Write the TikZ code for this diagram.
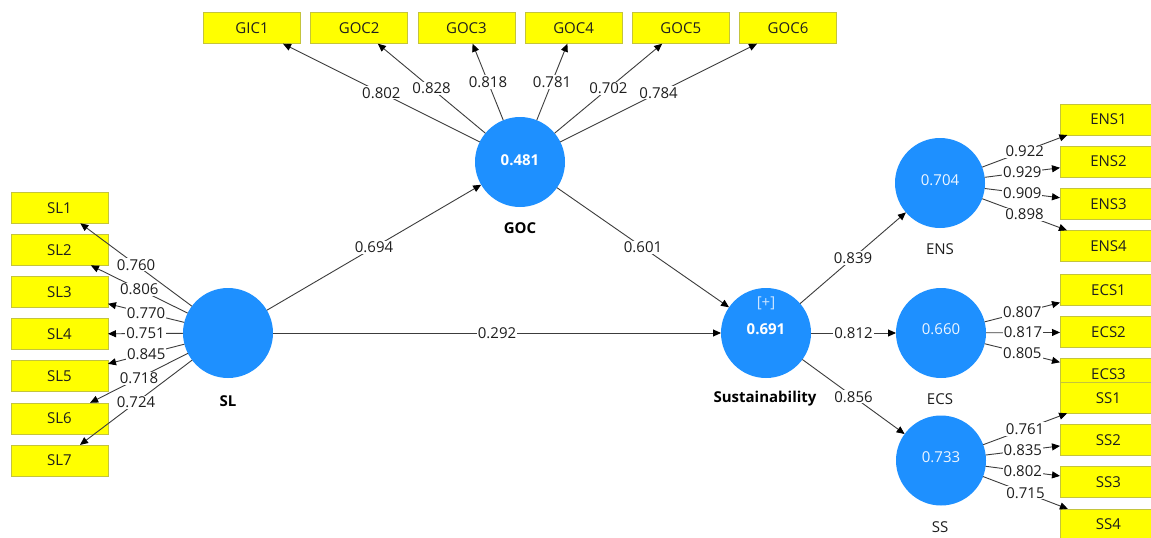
\documentclass[tikz,border=0pt]{standalone}
\usepackage{fontspec}
\setmainfont{Open Sans}
\usetikzlibrary{arrows.meta}

\definecolor{lvblue}{RGB}{30,144,255}
\definecolor{indyellow}{RGB}{255,255,0}
\definecolor{indedge}{RGB}{196,196,60}
\definecolor{pathgray}{RGB}{60,60,60}
\definecolor{txtdark}{RGB}{30,30,30}
\definecolor{softwhite}{RGB}{238,246,255}
\definecolor{plusmark}{RGB}{205,230,255}

\newcommand\pfont{\fontsize{15}{18}\selectfont}

\begin{document}
\begin{tikzpicture}[x=1pt,y=-1pt,
  latent/.style={circle,fill=lvblue,draw=none,minimum size=90pt,inner sep=0pt,outer sep=0pt},
  indicator/.style={rectangle,fill=indyellow,draw=indedge,line width=0.6pt,
    minimum width=97pt,minimum height=31pt,inner sep=0pt,outer sep=0pt,
    text=txtdark,font=\pfont},
  link/.style={draw=pathgray,line width=0.9pt,
    -{Triangle[length=8pt,width=7pt,color=black]}},
  coef/.style={fill=white,inner sep=1pt,text=txtdark,font=\pfont,midway},
  value/.style={text=softwhite,font=\pfont,inner sep=0pt},
  boldvalue/.style={text=white,font=\pfont\bfseries,inner sep=0pt},
  lvname/.style={text=txtdark,font=\pfont,inner sep=0pt},
  lvbold/.style={text=black,font=\pfont\bfseries,inner sep=0pt}
]
\clip (0,0) rectangle (1151,538);
\fill[white] (0,0) rectangle (1151,538);

% latent variables
\node[latent] (SL)   at (228,333) {};
\node[latent] (GOC)  at (520,162) {};
\node[latent] (SUST) at (766,333) {};
\node[latent] (ENS)  at (940,183) {};
\node[latent] (ECS)  at (941,333) {};
\node[latent] (SS)   at (941,460.5) {};

% values inside the circles
\node[boldvalue] (GOCv)  at ([yshift=2pt]GOC.center) {0.481};
\node[text=plusmark,font=\pfont,inner sep=0pt] (SUSTp) at ([yshift=30pt]SUST.center) {[+]};
\node[boldvalue] (SUSTv) at ([yshift=4pt]SUST.center) {0.691};
\node[value] (ENSv) at ([yshift=3pt]ENS.center) {0.704};
\node[value] (ECSv) at ([yshift=4pt]ECS.center) {0.660};
\node[value] (SSv)  at ([yshift=3.5pt]SS.center) {0.733};

% names below the circles
\node[lvbold] (SLn)   at (228,401) {SL};
\node[lvbold] (GOCn)  at (520,228) {GOC};
\node[lvbold] (SUSTn) at (765,399) {Sustainability};
\node[lvname] (ENSn)  at (940,249) {ENS};
\node[lvname] (ECSn)  at (940,399) {ECS};
\node[lvname] (SSn)   at (940,527) {SS};

% indicators of SL
\node[indicator] (SL1) at (59.5,207.8) {SL1};
\node[indicator] (SL2) at (59.5,249.9) {SL2};
\node[indicator] (SL3) at (59.5,292.0) {SL3};
\node[indicator] (SL4) at (59.5,334.1) {SL4};
\node[indicator] (SL5) at (59.5,376.2) {SL5};
\node[indicator] (SL6) at (59.5,418.3) {SL6};
\node[indicator] (SL7) at (59.5,460.4) {SL7};

% indicators of GOC
\node[indicator] (GIC1) at (252.0,28.2) {GIC1};
\node[indicator] (GOC2) at (359.2,28.2) {GOC2};
\node[indicator] (GOC3) at (466.4,28.2) {GOC3};
\node[indicator] (GOC4) at (573.6,28.2) {GOC4};
\node[indicator] (GOC5) at (680.8,28.2) {GOC5};
\node[indicator] (GOC6) at (788.0,28.2) {GOC6};

% indicators of ENS, ECS and SS
\node[indicator] (ENS1) at (1108.5,119.5) {ENS1};
\node[indicator] (ENS2) at (1108.5,161.6) {ENS2};
\node[indicator] (ENS3) at (1108.5,203.7) {ENS3};
\node[indicator] (ENS4) at (1108.5,245.8) {ENS4};
\node[indicator] (ECS1) at (1108.5,290.2) {ECS1};
\node[indicator] (ECS2) at (1108.5,332.2) {ECS2};
\node[indicator] (ECS3) at (1108.5,374.2) {ECS3};
\node[indicator] (SS1)  at (1108.5,397.8) {SS1};
\node[indicator] (SS2)  at (1108.5,440.0) {SS2};
\node[indicator] (SS3)  at (1108.5,482.2) {SS3};
\node[indicator] (SS4)  at (1108.5,524.4) {SS4};

% structural paths
\draw[link] (SL)   -- node[coef] {0.694} (GOC);
\draw[link] (SL)   -- node[coef] {0.292} (SUST);
\draw[link] (GOC)  -- node[coef] {0.601} (SUST);
\draw[link] (SUST) -- node[coef] {0.839} (ENS);
\draw[link] (SUST) -- node[coef] {0.812} (ECS);
\draw[link] (SUST) -- node[coef] {0.856} (SS);

% outer loadings of SL
\draw[link] (SL) -- node[coef] {0.760} (SL1);
\draw[link] (SL) -- node[coef] {0.806} (SL2);
\draw[link] (SL) -- node[coef] {0.770} (SL3);
\draw[link] (SL) -- node[coef] {0.751} (SL4);
\draw[link] (SL) -- node[coef] {0.845} (SL5);
\draw[link] (SL) -- node[coef] {0.718} (SL6);
\draw[link] (SL) -- node[coef] {0.724} (SL7);

% outer loadings of GOC
\draw[link] (GOC) -- node[coef] {0.802} (GIC1);
\draw[link] (GOC) -- node[coef] {0.828} (GOC2);
\draw[link] (GOC) -- node[coef] {0.818} (GOC3);
\draw[link] (GOC) -- node[coef] {0.781} (GOC4);
\draw[link] (GOC) -- node[coef] {0.702} (GOC5);
\draw[link] (GOC) -- node[coef] {0.784} (GOC6);

% outer loadings of ENS
\draw[link] (ENS) -- node[coef] {0.922} (ENS1);
\draw[link] (ENS) -- node[coef] {0.929} (ENS2);
\draw[link] (ENS) -- node[coef] {0.909} (ENS3);
\draw[link] (ENS) -- node[coef] {0.898} (ENS4);

% outer loadings of ECS
\draw[link] (ECS) -- node[coef] {0.807} (ECS1);
\draw[link] (ECS) -- node[coef] {0.817} (ECS2);
\draw[link] (ECS) -- node[coef] {0.805} (ECS3);

% outer loadings of SS
\draw[link] (SS) -- node[coef] {0.761} (SS1);
\draw[link] (SS) -- node[coef] {0.835} (SS2);
\draw[link] (SS) -- node[coef] {0.802} (SS3);
\draw[link] (SS) -- node[coef] {0.715} (SS4);
\end{tikzpicture}
\end{document}
